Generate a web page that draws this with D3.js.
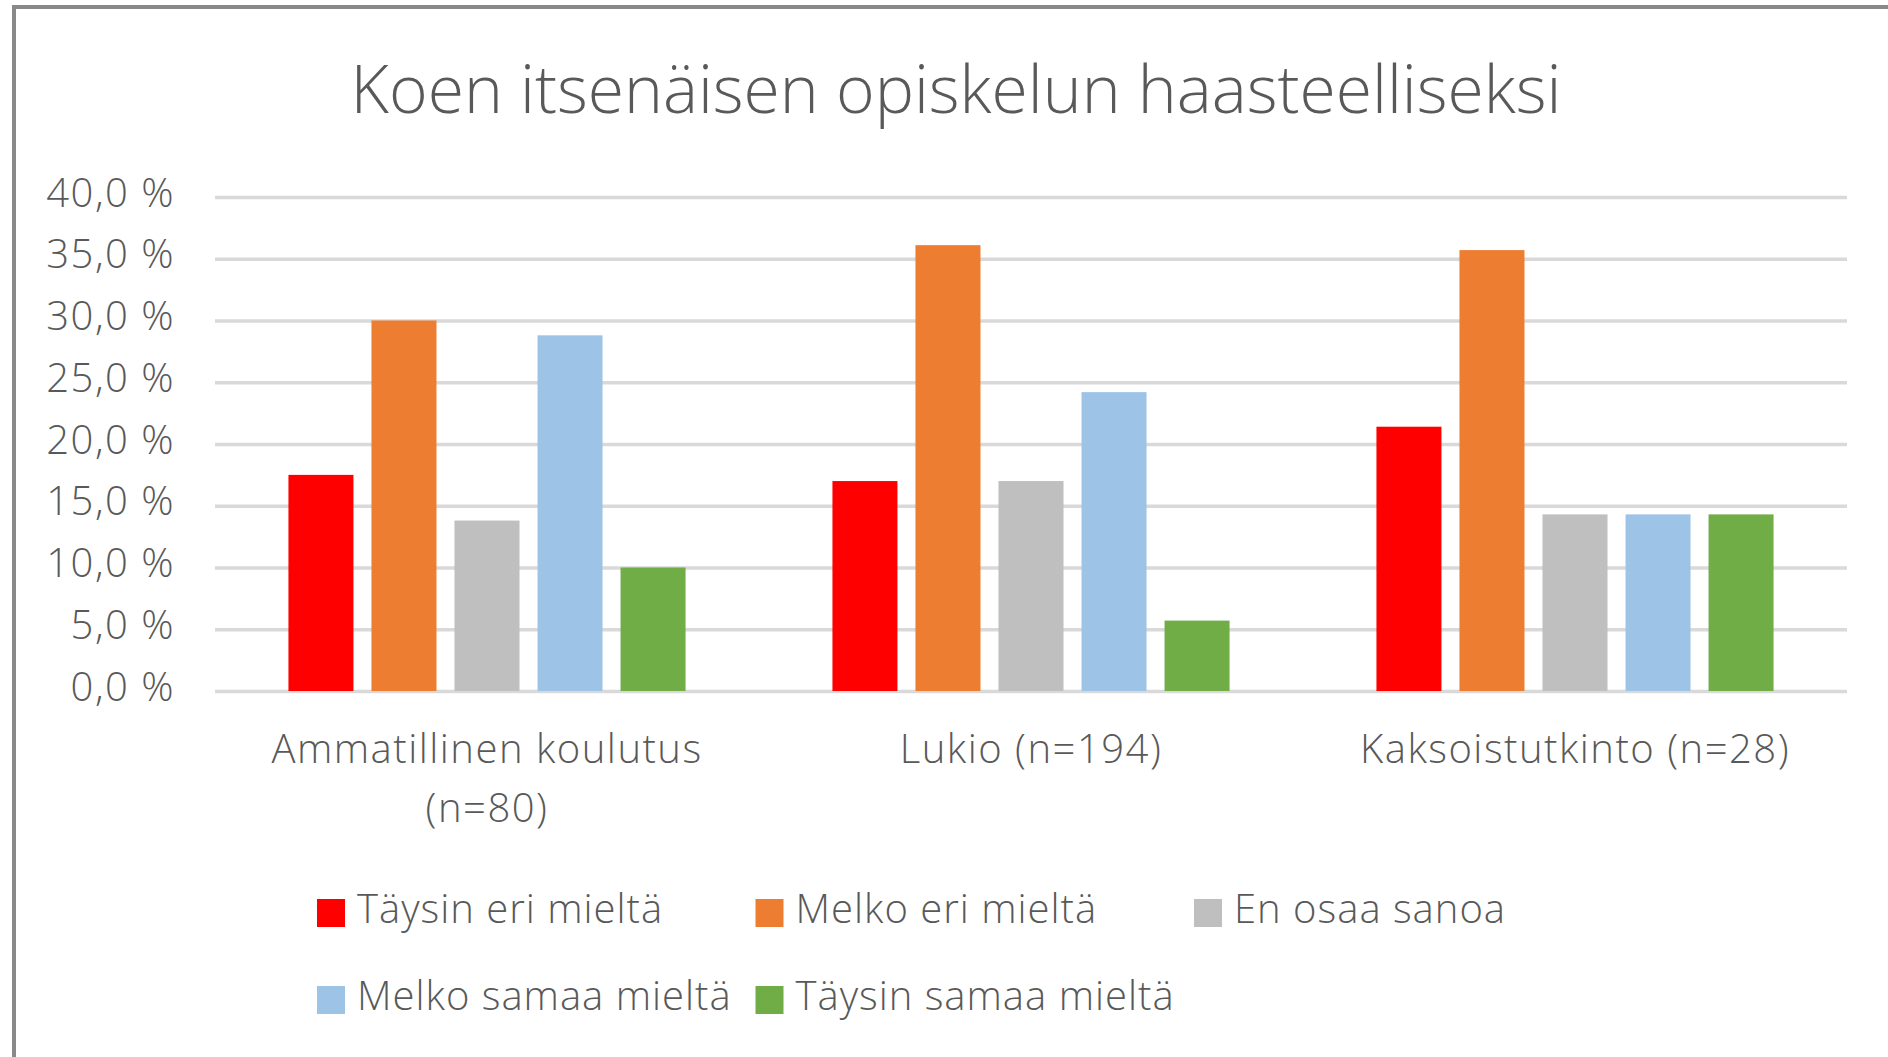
<!DOCTYPE html>
<html>
<head>
<meta charset="utf-8">
<script src="https://cdn.jsdelivr.net/npm/d3@7"></script>
<style>
  body { margin: 0; background: #fff; }
  svg text { font-family: "Open Sans", "Liberation Sans", sans-serif; fill: #595959; }
</style>
</head>
<body>
<div id="canvas"></div>
<script>
var W = 1888, H = 1057;
var m = {t:197, r:41, b:366, l:215},
    w = W - m.l - m.r,
    h = H - m.t - m.b;

// Data
var title = 'Koen itsenäisen opiskelun haasteelliseksi';
var categories = ['Ammatillinen koulutus (n=80)', 'Lukio (n=194)', 'Kaksoistutkinto (n=28)'];
var series = ['Täysin eri mieltä', 'Melko eri mieltä', 'En osaa sanoa', 'Melko samaa mieltä', 'Täysin samaa mieltä'];
var colors = ['#ff0000', '#ed7d31', '#bfbfbf', '#9dc3e6', '#70ad47'];
// percent per category, in series order
var ammatillinen = [17.5, 30.0, 13.8, 28.8, 10.0];
var lukio = [17.0, 36.1, 17.0, 24.2, 5.7];
var kaksois = [21.4, 35.7, 14.3, 14.3, 14.3];
var yTicks = [0, 5, 10, 15, 20, 25, 30, 35, 40];

var values = [ammatillinen, lukio, kaksois];

var svg = d3.select('#canvas')
    .append('svg')
    .attr('width', W)
    .attr('height', H);

// frame (only top and left edges visible in the picture)
svg.append('path')
    .attr('d', 'M14,' + H + 'V7H' + W)
    .attr('fill', 'none')
    .attr('stroke', '#898989')
    .attr('stroke-width', 4);

svg.append('text')
    .attr('x', 956)
    .attr('y', 113)
    .attr('text-anchor', 'middle')
    .style('font-size', '66px')
    .style('font-weight', 300)
    .text(title);

var plot = svg.append('g')
    .attr('transform', 'translate(' + m.l + ',' + m.t + ')');

// Scales
var scaleX = d3.scaleBand()
    .domain(categories)
    .range([0, w])
    .paddingInner(0.27)
    .paddingOuter(0.135);
var scaleX1 = d3.scaleBand()
    .domain(series)
    .range([0, scaleX.bandwidth()])
    .paddingInner(0.217);
var scaleY = d3.scaleLinear()
    .domain([0, 40])
    .range([h, 0]);
var scaleColor = d3.scaleOrdinal()
    .domain(series)
    .range(colors);

// Axis
var axisY = d3.axisLeft()
    .scale(scaleY)
    .tickValues(yTicks)
    .tickSize(-w)
    .tickFormat(function(d){ return d3.format('.1f')(d).replace('.', ',') + ' %'; });

var gY = plot.append('g').attr('class', 'axis axis-y').call(axisY);
gY.select('.domain').remove();
gY.selectAll('.tick line')
    .attr('stroke', '#d9d9d9')
    .attr('stroke-width', 3.5);
gY.selectAll('.tick text')
    .attr('x', -40)
    .attr('dy', 9)
    .style('font-size', '40px')
    .style('font-weight', 300)
    .style('letter-spacing', '1.5px');

// Bars
var groups = plot.selectAll('.group')
    .data(categories)
    .enter()
    .append('g')
    .attr('class', 'group')
    .attr('transform', function(d){ return 'translate(' + scaleX(d) + ',0)'; });

groups.selectAll('rect')
    .data(function(d, i){
        return series.map(function(s, j){ return {key: s, value: values[i][j]}; });
    })
    .enter()
    .append('rect')
    .attr('x', function(d){ return scaleX1(d.key); })
    .attr('width', scaleX1.bandwidth())
    .attr('y', function(d){ return scaleY(d.value); })
    .attr('height', function(d){ return h - scaleY(d.value); })
    .attr('fill', function(d){ return scaleColor(d.key); });

// Category labels
var axisX = d3.axisBottom()
    .scale(scaleX)
    .tickSize(0);
var gX = plot.append('g').attr('class', 'axis axis-x')
    .attr('transform', 'translate(0,' + h + ')')
    .call(axisX);
gX.select('.domain').remove();
gX.selectAll('.tick text')
    .attr('y', 72)
    .attr('dy', 0)
    .style('font-size', '40px')
    .style('font-weight', 300)
    .style('letter-spacing', '1.5px')
    .call(wrap, scaleX.step());

function wrap(text, width){
    text.each(function(){
        var t = d3.select(this),
            words = t.text().split(/\s+/).reverse(),
            word, line = [], lineNo = 0,
            y = t.attr('y'),
            tspan = t.text(null).append('tspan').attr('x', 0).attr('y', y);
        while ((word = words.pop())) {
            line.push(word);
            tspan.text(line.join(' '));
            if (tspan.node().getComputedTextLength() > width - 20 && line.length > 1) {
                line.pop();
                tspan.text(line.join(' '));
                line = [word];
                lineNo++;
                tspan = t.append('tspan').attr('x', 0).attr('y', +y + lineNo * 59).text(word);
            }
        }
    });
}

// Legend
var legend = svg.append('g')
    .attr('class', 'legend')
    .attr('transform', 'translate(317,899)');

var item = legend.selectAll('.item')
    .data(series)
    .enter()
    .append('g')
    .attr('class', 'item')
    .attr('transform', function(d, i){
        return 'translate(' + (i % 3) * 438.5 + ',' + Math.floor(i / 3) * 87 + ')';
    });
item.append('rect')
    .attr('width', 28)
    .attr('height', 28)
    .attr('fill', function(d){ return scaleColor(d); });
item.append('text')
    .attr('x', 40)
    .attr('y', 24)
    .style('font-size', '40px')
    .style('font-weight', 300)
    .style('letter-spacing', '1px')
    .text(function(d){ return d; });
</script>
</body>
</html>
